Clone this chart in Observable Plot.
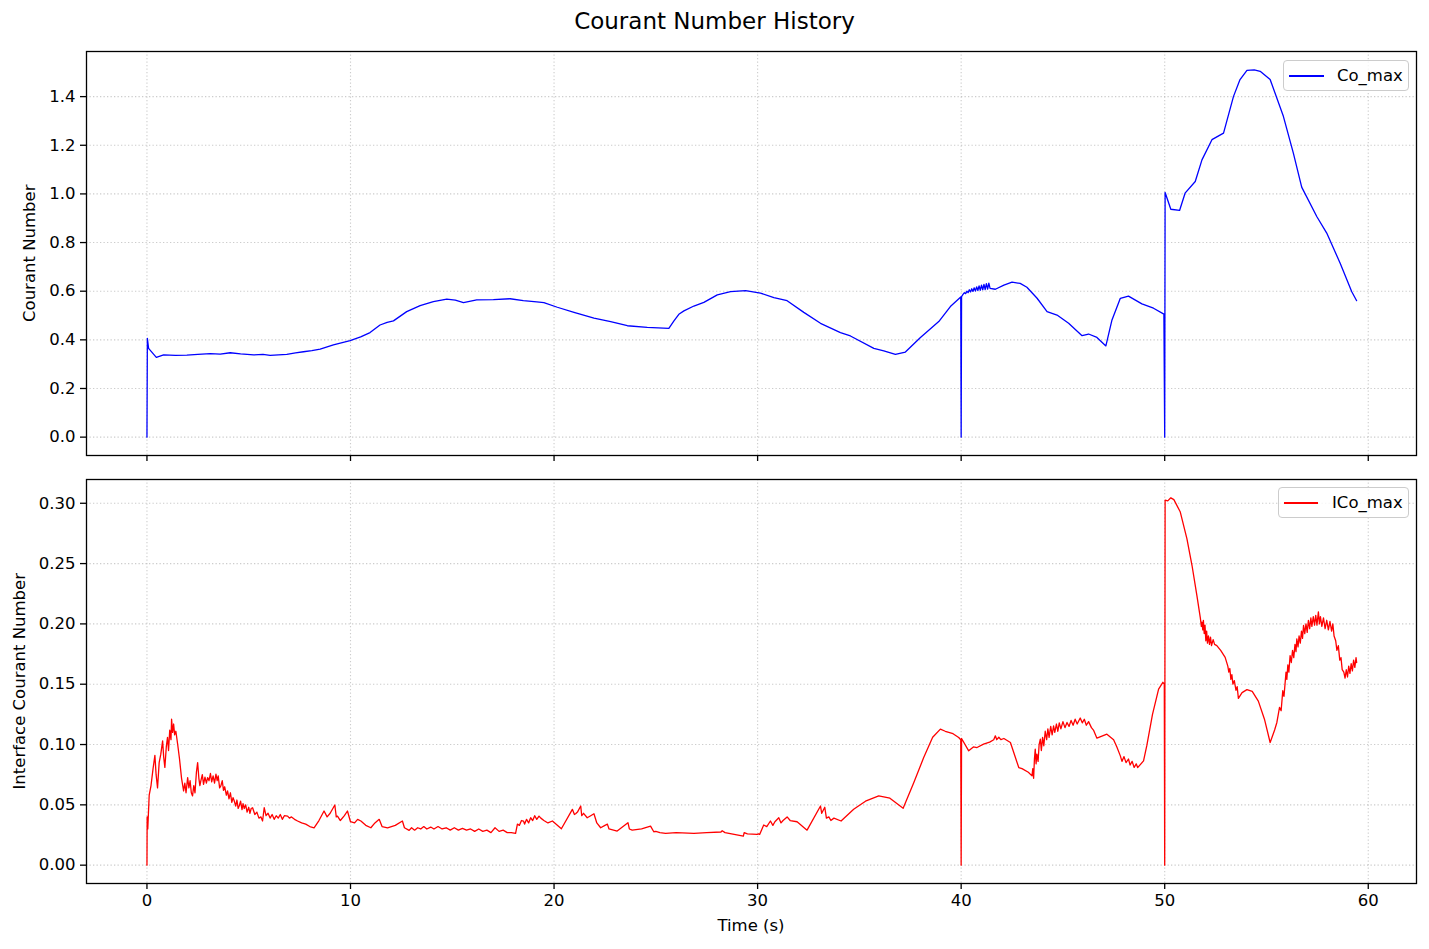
<!DOCTYPE html>
<html>
<head>
<meta charset="utf-8">
<script src="https://cdn.jsdelivr.net/npm/d3@7"></script>
<script src="https://cdn.jsdelivr.net/npm/@observablehq/plot@0.6"></script>
<style>
  html, body { margin: 0; padding: 0; background: #fff; }
  #fig { position: relative; width: 1429px; height: 949px; background: #fff; font-family: "DejaVu Sans", sans-serif; color: #000; overflow: hidden; }
  .abs { position: absolute; }
  .title { left: 0; width: 1429px; top: 10px; text-align: center; font-size: 23px; line-height: 23px; white-space: nowrap; }
  .xlabel { left: 551px; width: 400px; top: 918px; text-align: center; font-size: 16.5px; line-height: 16.5px; white-space: nowrap; }
  .ylabel { width: 500px; height: 16.5px; text-align: center; font-size: 16.5px; line-height: 16.5px; white-space: nowrap; transform: rotate(-90deg); transform-origin: 50% 50%; }
  .legend { border: 1px solid #cccccc; border-radius: 4px; background: rgba(255,255,255,0.8); box-sizing: border-box; }
  .legend .sample { position: absolute; height: 1.5px; }
  .legend .ltext { position: absolute; font-size: 16.5px; line-height: 16.5px; white-space: nowrap; }
</style>
</head>
<body>
<div id="fig">
  <div id="p1" class="abs" style="left:0;top:0;"></div>
  <div id="p2" class="abs" style="left:0;top:470px;"></div>
  <div class="abs title">Courant Number History</div>
  <div class="abs xlabel">Time (s)</div>
  <div class="abs ylabel" style="left:-220px;top:244.75px;">Courant Number</div>
  <div class="abs ylabel" style="left:-230px;top:672.75px;">Interface Courant Number</div>
  <div class="abs legend" style="left:1283px;top:60px;width:126px;height:31px;">
    <div class="sample" style="left:5px;top:14px;width:35px;background:#0000ff;"></div>
    <div class="ltext" style="left:53px;top:7px;">Co_max</div>
  </div>
  <div class="abs legend" style="left:1278px;top:487px;width:131px;height:31px;">
    <div class="sample" style="left:5px;top:14px;width:34px;background:#ff0000;"></div>
    <div class="ltext" style="left:53px;top:7px;">ICo_max</div>
  </div>
</div>
<script>
// ---- Data ----
const xTicks = [0, 10, 20, 30, 40, 50, 60];
const coTicks = [0, 0.2, 0.4, 0.6, 0.8, 1.0, 1.2, 1.4];
const icoTicks = [0, 0.05, 0.10, 0.15, 0.20, 0.25, 0.30];

const coTime = [0, 0.02, 0.08, 0.46, 0.82, 1.4, 1.96, 2.5, 3.11, 3.6, 4.09, 4.6, 5.24, 5.7, 6.05, 6.87, 7.3, 7.69, 8.1, 8.51, 9.16, 9.98, 10.5, 10.96, 11.45, 11.8, 12.11, 12.76, 13.42, 14.07, 14.73, 15.15, 15.55, 16.2, 17.02, 17.84, 18.49, 19.15, 19.5, 20.16, 20.98, 21.96, 22.78, 23.6, 24.58, 25.64, 25.89, 26.13, 26.38, 26.87, 27.36, 28.02, 28.67, 29.41, 30.14, 30.8, 31.45, 32.27, 33.09, 34.07, 34.56, 35.71, 36.2, 36.77, 37.26, 38.0, 38.9, 39.47, 39.98,
  40.0, 40.02, 40.1, 40.16, 40.22, 40.28, 40.34, 40.4, 40.46, 40.52, 40.58, 40.64, 40.7, 40.76, 40.82, 40.88, 40.94, 41.0, 41.06, 41.12, 41.18, 41.24, 41.3, 41.36, 41.42, 41.68, 42.1, 42.5, 42.9, 43.23, 43.73, 44.22, 44.71, 45.28, 45.94, 46.26, 46.67, 47.11, 47.41, 47.82, 48.22, 48.88, 49.45, 49.96,
  50.0, 50.02, 50.3, 50.73, 51.0, 51.5, 51.83, 52.32, 52.89, 53.38, 53.7, 54.04, 54.4, 54.69, 55.18, 55.83, 56.32, 56.73, 57.47, 57.96, 58.62, 59.19, 59.43];
const coValue = [0, 0.406, 0.365, 0.328, 0.338, 0.336, 0.337, 0.340, 0.343, 0.341, 0.347, 0.342, 0.338, 0.340, 0.336, 0.340, 0.346, 0.351, 0.356, 0.362, 0.379, 0.397, 0.412, 0.430, 0.461, 0.472, 0.478, 0.516, 0.541, 0.557, 0.567, 0.563, 0.553, 0.564, 0.565, 0.569, 0.561, 0.556, 0.553, 0.534, 0.513, 0.489, 0.475, 0.458, 0.451, 0.447, 0.478, 0.505, 0.519, 0.539, 0.554, 0.585, 0.598, 0.602, 0.592, 0.574, 0.561, 0.513, 0.468, 0.430, 0.416, 0.365, 0.355, 0.340, 0.350, 0.410, 0.475, 0.537, 0.576,
  0, 0.578, 0.588, 0.594, 0.590, 0.600, 0.594, 0.606, 0.597, 0.610, 0.599, 0.614, 0.601, 0.618, 0.603, 0.622, 0.604, 0.625, 0.606, 0.628, 0.607, 0.631, 0.609, 0.633, 0.612, 0.608, 0.625, 0.637, 0.632, 0.616, 0.571, 0.516, 0.502, 0.468, 0.417, 0.424, 0.410, 0.375, 0.482, 0.571, 0.580, 0.548, 0.530, 0.506,
  0, 1.006, 0.937, 0.932, 1.003, 1.051, 1.140, 1.223, 1.250, 1.401, 1.470, 1.508, 1.510, 1.504, 1.470, 1.319, 1.168, 1.028, 0.907, 0.839, 0.715, 0.598, 0.561];

const icoTime = [0.0, 0.01, 0.04, 0.07, 0.11, 0.2, 0.3, 0.39, 0.45, 0.52, 0.6, 0.68, 0.77, 0.82, 0.88, 0.95, 1.01, 1.06, 1.12, 1.18, 1.21, 1.26, 1.31, 1.36, 1.42, 1.51, 1.6, 1.7, 1.8, 1.86, 1.92, 2.0, 2.06, 2.12, 2.18, 2.24, 2.3, 2.36, 2.43, 2.49, 2.55, 2.6, 2.65, 2.72, 2.78, 2.85, 2.92, 2.98, 3.05, 3.12, 3.18, 3.25, 3.32, 3.39, 3.45, 3.5, 3.57, 3.63, 3.7, 3.76, 3.82, 3.9, 3.96, 4.03, 4.1, 4.17, 4.23, 4.29, 4.36, 4.42, 4.48, 4.53, 4.6, 4.67, 4.72, 4.78, 4.85, 4.92, 5.0, 5.06, 5.12, 5.19, 5.3, 5.4, 5.5, 5.6, 5.68, 5.76, 5.85, 5.95, 6.05, 6.15, 6.25, 6.35, 6.45, 6.55, 6.65, 6.75, 6.91, 7.0, 7.1, 7.25, 7.4, 7.6, 7.8, 8.0, 8.21, 8.45, 8.7, 8.85, 9.0, 9.23, 9.3, 9.36, 9.5, 9.7, 9.85, 10.0, 10.2, 10.35, 10.51, 10.75, 11.0, 11.2, 11.41, 11.55, 11.82, 12.2, 12.55, 12.65, 12.88, 13.0, 13.15, 13.3, 13.45, 13.6, 13.75, 13.94,
  14.1, 14.3, 14.5, 14.7, 14.9, 15.1, 15.3, 15.5, 15.7, 15.9, 16.1, 16.3, 16.5, 16.7, 16.9, 17.1, 17.3, 17.5, 17.7, 17.9, 18.11, 18.2, 18.3, 18.4, 18.5, 18.55, 18.65, 18.75, 18.85, 18.95, 19.05, 19.15, 19.26, 19.35, 19.5, 19.7, 19.92, 20.36, 20.9, 21.0, 21.06, 21.15, 21.31, 21.36, 21.45, 21.63, 21.8, 21.96, 22.1, 22.29, 22.5, 22.62, 22.7, 23.1, 23.63, 23.7, 23.84, 24.3, 24.74, 24.9, 25.0, 25.2, 25.48, 26.0, 26.87, 27.5, 28.2, 28.26, 28.4, 29.3, 29.34, 29.5, 29.98, 30.05, 30.1, 30.3, 30.45, 30.63, 30.75, 30.85, 31.04, 31.15, 31.25, 31.45, 31.6, 31.94, 32.43, 33.09, 33.15, 33.3, 33.38, 33.5, 33.6, 33.75, 34.1, 34.72, 35.3, 35.95, 36.5, 37.15, 37.67, 38.16, 38.6, 38.98, 39.22, 39.6, 39.88, 39.98,
  40.0, 40.02, 40.37, 40.6, 40.78, 41.1, 41.4, 41.6, 41.68, 41.75, 41.85, 41.95, 42.1, 42.42, 42.83, 42.99, 43.3, 43.48, 43.52, 43.56, 43.6, 43.64, 43.68, 43.72, 43.78, 43.83, 43.89, 43.94, 44.0, 44.06, 44.13, 44.2, 44.26, 44.32, 44.4, 44.47, 44.54, 44.6, 44.68, 44.75, 44.82, 44.9, 45.0, 45.1, 45.2, 45.3, 45.4, 45.5, 45.6, 45.7, 45.85, 45.95, 46.05, 46.15, 46.26, 46.4, 46.5, 46.67, 47.16, 47.49, 47.65, 47.82, 47.9, 48.0, 48.1, 48.22, 48.3, 48.4, 48.5, 48.6, 48.67, 48.96, 49.12, 49.4, 49.7, 49.91, 49.98,
  50.0, 50.02, 50.15, 50.3, 50.45, 50.76, 51.09, 51.34, 51.58, 51.75, 51.8, 51.83, 51.87, 51.9, 51.94, 51.98, 52.02, 52.06, 52.1, 52.15, 52.2, 52.25, 52.3, 52.38, 52.45, 52.56, 52.75, 52.97, 53.1, 53.15, 53.2, 53.25, 53.3, 53.35, 53.42, 53.5, 53.56, 53.62, 53.8, 54.04, 54.3, 54.6, 54.9, 55.18, 55.4, 55.51, 55.58, 55.64, 55.72, 55.8, 55.86, 55.92, 55.96, 56.0, 56.05, 56.1, 56.16, 56.22, 56.28, 56.34, 56.4, 56.45, 56.49, 56.55, 56.6, 56.66, 56.72, 56.77, 56.82, 56.88, 56.94, 57.0, 57.06, 57.12, 57.18, 57.23, 57.3, 57.36, 57.42, 57.48, 57.55, 57.6, 57.65, 57.72, 57.8, 57.88, 57.96, 58.04, 58.12, 58.2, 58.26, 58.32, 58.4, 58.46, 58.53, 58.6, 58.66, 58.72, 58.8, 58.86, 58.92, 58.98, 59.04, 59.1, 59.16, 59.22, 59.28, 59.34, 59.4, 59.43];
const icoValue = [0.0, 0.040, 0.030, 0.042, 0.058, 0.066, 0.080, 0.091, 0.075, 0.064, 0.085, 0.092, 0.103, 0.090, 0.081, 0.098, 0.106, 0.095, 0.112, 0.104, 0.121, 0.110, 0.117, 0.108, 0.111, 0.100, 0.088, 0.072, 0.0615, 0.068, 0.060, 0.0726, 0.064, 0.070, 0.060, 0.0574, 0.066, 0.060, 0.077, 0.085, 0.072, 0.066, 0.070, 0.075, 0.067, 0.073, 0.068, 0.0726, 0.070, 0.076, 0.069, 0.074, 0.068, 0.0754, 0.070, 0.074, 0.064, 0.0657, 0.070, 0.062, 0.065, 0.058, 0.0615, 0.055, 0.060, 0.052, 0.056, 0.0532, 0.049, 0.054, 0.047, 0.049, 0.053, 0.046, 0.051, 0.047, 0.050, 0.044, 0.048, 0.043, 0.047, 0.0476, 0.042, 0.044, 0.039, 0.040, 0.0366, 0.0476, 0.041, 0.043, 0.039, 0.042, 0.038, 0.041, 0.039, 0.042, 0.038, 0.041, 0.0407, 0.039, 0.040, 0.038, 0.0366, 0.035, 0.034, 0.032, 0.031, 0.037, 0.0449, 0.040, 0.043, 0.0499, 0.040, 0.0407, 0.037, 0.041, 0.0449, 0.036, 0.035, 0.038, 0.0366, 0.033, 0.031, 0.035, 0.038, 0.032, 0.031, 0.033, 0.0366, 0.031, 0.0288, 0.031, 0.029, 0.031, 0.030, 0.032, 0.030, 0.0316,
  0.030, 0.032, 0.030, 0.031, 0.029, 0.031, 0.029, 0.0305, 0.029, 0.030, 0.028, 0.030, 0.028, 0.029, 0.027, 0.031, 0.028, 0.029, 0.027, 0.027, 0.0263, 0.034, 0.033, 0.037, 0.0366, 0.034, 0.038, 0.035, 0.0393, 0.037, 0.041, 0.038, 0.0407, 0.039, 0.037, 0.035, 0.0366, 0.0302, 0.0463, 0.042, 0.0426, 0.044, 0.049, 0.041, 0.043, 0.0393, 0.041, 0.0426, 0.035, 0.031, 0.033, 0.034, 0.030, 0.0283, 0.0352, 0.030, 0.029, 0.030, 0.0324, 0.0277, 0.028, 0.027, 0.0263, 0.027, 0.0263, 0.027, 0.0275, 0.0285, 0.027, 0.0241, 0.027, 0.026, 0.0255, 0.026, 0.0255, 0.0333, 0.032, 0.0366, 0.033, 0.036, 0.0393, 0.035, 0.037, 0.040, 0.037, 0.036, 0.029, 0.049, 0.043, 0.048, 0.039, 0.040, 0.037, 0.039, 0.0366, 0.0463, 0.053, 0.0574, 0.0555, 0.0471, 0.0684, 0.0892, 0.106, 0.1128, 0.111, 0.109, 0.1058, 0.104,
  0, 0.105, 0.0948, 0.098, 0.0975, 0.1003, 0.102, 0.104, 0.1072, 0.104, 0.106, 0.104, 0.105, 0.1017, 0.0809, 0.080, 0.077, 0.074, 0.080, 0.072, 0.088, 0.0962, 0.084, 0.092, 0.086, 0.100, 0.1045, 0.095, 0.106, 0.099, 0.111, 0.104, 0.113, 0.106, 0.115, 0.108, 0.1155, 0.110, 0.117, 0.111, 0.118, 0.113, 0.119, 0.114, 0.1183, 0.115, 0.120, 0.116, 0.121, 0.117, 0.122, 0.118, 0.121, 0.116, 0.119, 0.114, 0.112, 0.1053, 0.1086, 0.104, 0.098, 0.0906, 0.086, 0.090, 0.085, 0.088, 0.083, 0.086, 0.081, 0.084, 0.0809, 0.0864, 0.099, 0.125, 0.146, 0.1516, 0.150,
  0, 0.3026, 0.302, 0.3045, 0.303, 0.293, 0.2707, 0.2486, 0.2236, 0.205, 0.198, 0.2014, 0.195, 0.203, 0.192, 0.199, 0.186, 0.194, 0.184, 0.190, 0.183, 0.189, 0.182, 0.187, 0.183, 0.182, 0.178, 0.1723, 0.165, 0.160, 0.163, 0.154, 0.158, 0.150, 0.153, 0.145, 0.148, 0.1382, 0.143, 0.1455, 0.144, 0.136, 0.121, 0.1017, 0.112, 0.1183, 0.125, 0.1308, 0.128, 0.1446, 0.140, 0.152, 0.160, 0.154, 0.166, 0.160, 0.1737, 0.168, 0.178, 0.172, 0.183, 0.177, 0.1876, 0.181, 0.190, 0.184, 0.194, 0.188, 0.1987, 0.192, 0.200, 0.193, 0.203, 0.196, 0.205, 0.198, 0.206, 0.199, 0.207, 0.199, 0.210, 0.200, 0.206, 0.198, 0.205, 0.196, 0.203, 0.195, 0.202, 0.194, 0.200, 0.190, 0.186, 0.178, 0.182, 0.170, 0.172, 0.162, 0.160, 0.155, 0.162, 0.156, 0.165, 0.159, 0.167, 0.161, 0.170, 0.164, 0.172, 0.168];

// ---- Build tables ----
const co = coTime.map((t, i) => ({t, v: coValue[i]}));
const ico = icoTime.map((t, i) => ({t, v: icoValue[i]}));

const gridStyle = {stroke: "#b0b0b0", strokeOpacity: 0.65, strokeWidth: 1.1, strokeDasharray: "1.3,2.2"};
const common = {
  width: 1429,
  marginLeft: 86,
  marginRight: 13,
  style: {fontFamily: "DejaVu Sans, sans-serif", fontSize: "16.5px", color: "#000", background: "transparent", overflow: "visible"},
  x: {domain: [-2.97, 62.37]}
};

const p1 = Plot.plot({
  ...common,
  height: 470,
  marginTop: 51,
  marginBottom: 15,
  y: {domain: [-0.0755, 1.5855]},
  marks: [
    Plot.gridX(xTicks, gridStyle),
    Plot.gridY(coTicks, gridStyle),
    Plot.line(co, {x: "t", y: "v", stroke: "#0000ff", strokeWidth: 1.3}),
    Plot.axisX(xTicks, {tickSize: 6, strokeWidth: 1.3, fill: "none", label: null}),
    Plot.axisY(coTicks, {tickSize: 6, tickPadding: 5, strokeWidth: 1.3, tickFormat: d3.format(".1f"), label: null}),
    Plot.frame({stroke: "#000", strokeWidth: 1.3})
  ]
});
document.getElementById("p1").appendChild(p1);

const p2 = Plot.plot({
  ...common,
  height: 479,
  marginTop: 9,
  marginBottom: 66,
  y: {domain: [-0.0152, 0.3197]},
  marks: [
    Plot.gridX(xTicks, gridStyle),
    Plot.gridY(icoTicks, gridStyle),
    Plot.line(ico, {x: "t", y: "v", stroke: "#ff0000", strokeWidth: 1.3}),
    Plot.axisX(xTicks, {tickSize: 6, tickPadding: 5, strokeWidth: 1.3, tickFormat: d => String(d), label: null}),
    Plot.axisY(icoTicks, {tickSize: 6, tickPadding: 5, strokeWidth: 1.3, tickFormat: d3.format(".2f"), label: null}),
    Plot.frame({stroke: "#000", strokeWidth: 1.3})
  ]
});
document.getElementById("p2").appendChild(p2);
</script>
</body>
</html>
